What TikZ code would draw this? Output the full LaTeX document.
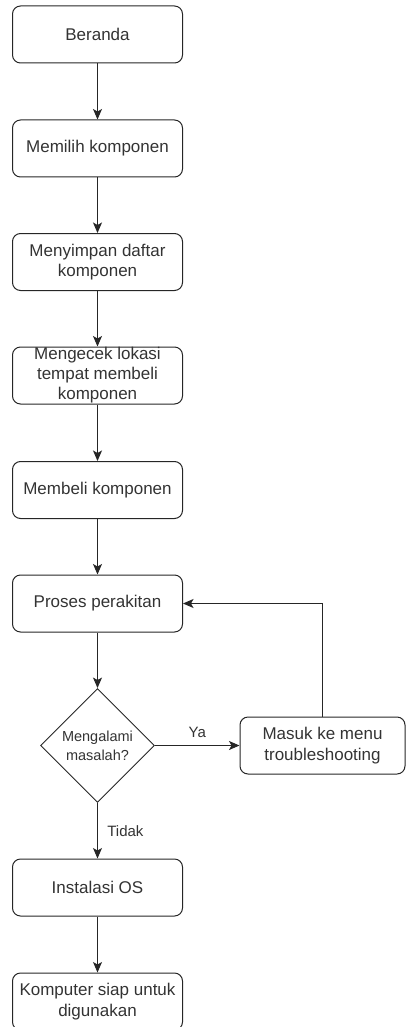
\documentclass[tikz,border=0pt]{standalone}
\usepackage{fontspec}
\setmainfont{Liberation Sans}
\usetikzlibrary{arrows.meta,shapes.geometric}
\definecolor{inkgray}{HTML}{333333}
\tikzset{
  stepbox/.style={draw=black!85,line width=1pt,rounded corners=8pt,
    minimum width=170pt,minimum height=57pt,inner sep=2pt,align=center,
    text=inkgray,font=\fontsize{17}{20.5}\selectfont},
  boxtext/.style={align=center,inner sep=0pt,text=inkgray,
    font=\fontsize{17}{20}\selectfont},
  askbox/.style={draw=black!85,line width=0.9pt,diamond,aspect=1,
    minimum size=114pt,inner sep=0pt,align=center,text=inkgray,
    font=\fontsize{14.5}{19}\selectfont},
  flow/.style={->,line width=1pt,draw=black!85},
  flowlabel/.style={text=inkgray,font=\fontsize{15}{18}\selectfont}
}
\begin{document}
\begin{tikzpicture}[x=1pt,y=-1pt,>={Stealth[length=10.5pt,width=9pt,inset=2.5pt]}]
    \useasboundingbox (0,0) rectangle (406,1027);
    % main column
    \node[stepbox] (beranda) at (97.5,34.5) {Beranda};
    \node[stepbox] (pilih) at (97.5,148.5) {Memilih komponen};
    \node[stepbox] (simpan) at (97.5,262) {Menyimpan daftar\\komponen};
    \node[stepbox] (cek) at (97.5,375.5) {};
    \node[boxtext] (cektext) at (cek.center) {Mengecek lokasi\\tempat membeli\\komponen};
    \node[stepbox] (beli) at (97.5,490) {Membeli komponen};
    \node[stepbox] (rakit) at (97.5,603.5) {Proses perakitan};
    \node[askbox] (masalah) at (97.5,745.5) {Mengalami\\masalah?};
    \node[stepbox,minimum width=165pt] (trouble) at (322.5,745.5) {Masuk ke menu\\troubleshooting};
    \node[stepbox] (instal) at (97.5,887.5) {Instalasi OS};
    \node[stepbox] (siap) at (97.5,1001.5) {Komputer siap untuk\\digunakan};
    % arrows
    \draw[flow] (beranda) -- (pilih);
    \draw[flow] (pilih) -- (simpan);
    \draw[flow] (simpan) -- (cek);
    \draw[flow] (cek) -- (beli);
    \draw[flow] (beli) -- (rakit);
    \draw[flow] (rakit) -- (masalah);
    \draw[flow] (masalah) -- node[flowlabel,above=4pt] (ya) {Ya} (trouble);
    \draw[flow] (trouble.north) |- (rakit.east);
    \draw[flow] (masalah) -- node[flowlabel,right=6pt] (tidak) {Tidak} (instal);
    \draw[flow] (instal) -- (siap);
\end{tikzpicture}
\end{document}
